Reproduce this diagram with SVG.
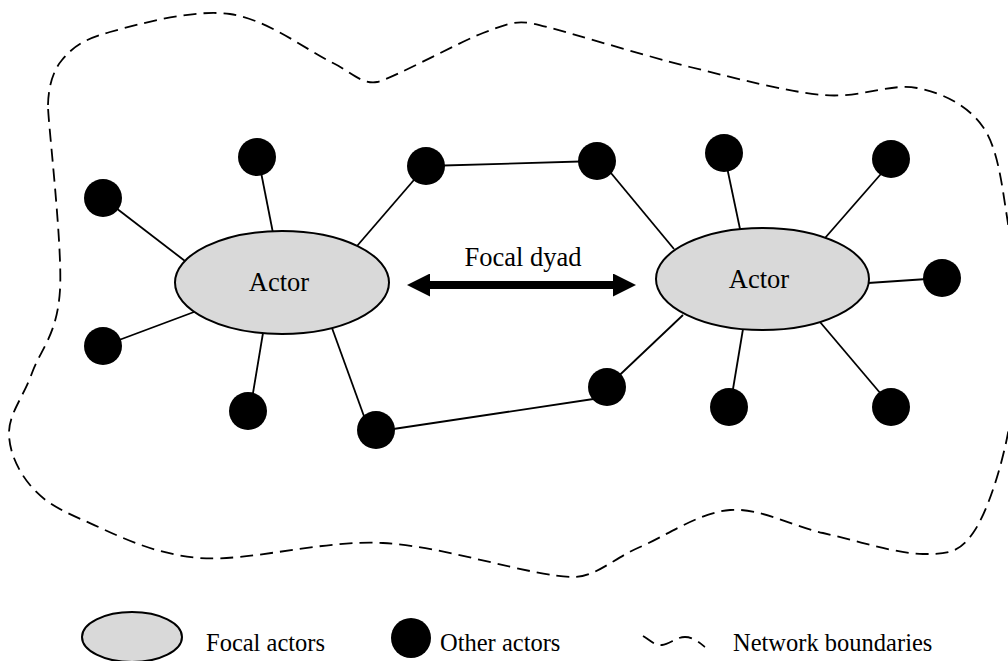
<svg xmlns="http://www.w3.org/2000/svg" width="1008" height="661" viewBox="0 0 1008 661">
  <style>
    text { font-family: 'Liberation Serif', 'DejaVu Serif', serif; fill: #000; }
    .focal { fill: #d9d9d9; stroke: #000; stroke-width: 2; }
    .other { fill: #000; }
    .tie { stroke: #000; stroke-width: 1.8; fill: none; stroke-linecap: butt; }
    .boundary { fill: none; stroke: #000; stroke-width: 1.8; stroke-dasharray: 13 7; }
  </style>
  <defs>
    <marker id="head" markerUnits="userSpaceOnUse" markerWidth="23" markerHeight="23" viewBox="0 0 23 23" refX="1" refY="11.5" orient="auto-start-reverse">
      <path d="M0,0 L23,11.5 L0,23 Z" fill="#000"/>
    </marker>
  </defs>

  <rect width="1008" height="661" fill="#fff"/>

  <!-- network boundary -->
  <path id="boundary" class="boundary" d="M48,105 C48.3,90 51.7,72.2 62,60 C72.3,47.8 82,39.7 110,32 C138,24.3 192.8,8.8 230,14 C267.2,19.2 308,51 333,63 C348,70 362,85 377,82 C392,79 457.5,42.8 483,33 C508.5,23.2 515,21 530,23 C545,25 641.2,55 690,67 C738.8,79 785.2,91.5 823,95 C860.8,98.5 890.3,82.7 917,88 C943.7,93.3 968,105.5 983,127 C998,148.5 1001.8,184.8 1007,217 C1012.2,249.2 1013.8,284 1014,320 C1014.2,356 1014.8,397.5 1008,433 C1001.2,468.5 987.2,512.8 973,533 C958.8,553.2 948,554 923,554 C898,554 855.2,540.3 823,533 C790.8,525.7 760.5,507.7 730,510 C699.5,512.3 666.2,535.8 640,547 C613.8,558.2 595,577.5 573,577 C530.2,576.3 445.2,546.2 383,543 C320.8,539.8 250,561.8 200,558 C150,554.2 111.3,532.2 83,520 C54.7,507.8 42.3,499.7 30,485 C17.7,470.3 8.7,450.7 9,432 C9.3,413.3 23.5,396.7 32,373 C40.5,349.3 57.3,334.7 60,290 C62.7,245.3 47.7,120 48,105 Z"/>

  <!-- ties between actors -->
  <g id="connectors">
    <line class="tie" x1="103" y1="198" x2="185" y2="261"/>
    <line class="tie" x1="258" y1="157" x2="273" y2="233"/>
    <line class="tie" x1="426" y1="166" x2="357" y2="246"/>
    <line class="tie" x1="103" y1="346" x2="194" y2="312"/>
    <line class="tie" x1="250" y1="411" x2="263" y2="333"/>
    <line class="tie" x1="369" y1="430" x2="332" y2="328"/>
    <line class="tie" x1="601" y1="161" x2="674" y2="249"/>
    <line class="tie" x1="724" y1="153" x2="740" y2="229"/>
    <line class="tie" x1="894" y1="159" x2="825" y2="238"/>
    <line class="tie" x1="942" y1="278" x2="868" y2="283"/>
    <line class="tie" x1="607" y1="387" x2="683" y2="315"/>
    <line class="tie" x1="730" y1="407" x2="743" y2="329"/>
    <line class="tie" x1="892" y1="407" x2="820" y2="322"/>
    <line class="tie" x1="426" y1="166" x2="597" y2="161"/>
    <line class="tie" x1="380" y1="431" x2="600" y2="398"/>
    <!-- focal dyad -->
    <line id="dyad" x1="429" y1="285" x2="614" y2="285" stroke="#000" stroke-width="8" marker-start="url(#head)" marker-end="url(#head)"/>
  </g>

  <!-- focal actors -->
  <g id="actor-left">
    <ellipse class="focal" cx="282" cy="282.5" rx="107" ry="51.5"/>
    <text x="279" y="291" font-family="Liberation Serif, DejaVu Serif, serif" font-size="26.5" text-anchor="middle">Actor</text>
  </g>
  <g id="actor-right">
    <ellipse class="focal" cx="762.5" cy="279" rx="106.5" ry="51"/>
    <text x="759" y="288" font-family="Liberation Serif, DejaVu Serif, serif" font-size="26.5" text-anchor="middle">Actor</text>
  </g>

  <text id="dyad-label" x="523" y="266" font-family="Liberation Serif, DejaVu Serif, serif" font-size="26.5" text-anchor="middle">Focal dyad</text>

  <!-- other actors -->
  <g id="node-a"><circle class="other" cx="103" cy="198" r="19"/></g>
  <g id="node-b"><circle class="other" cx="257" cy="157" r="19"/></g>
  <g id="node-c"><circle class="other" cx="426" cy="166" r="19"/></g>
  <g id="node-d"><circle class="other" cx="103" cy="346" r="19"/></g>
  <g id="node-e"><circle class="other" cx="248" cy="411" r="19"/></g>
  <g id="node-f"><circle class="other" cx="376" cy="430" r="19"/></g>
  <g id="node-g"><circle class="other" cx="597" cy="161" r="19"/></g>
  <g id="node-h"><circle class="other" cx="724" cy="153" r="19"/></g>
  <g id="node-i"><circle class="other" cx="891" cy="159" r="19"/></g>
  <g id="node-j"><circle class="other" cx="942" cy="278" r="19"/></g>
  <g id="node-k"><circle class="other" cx="607" cy="387" r="19"/></g>
  <g id="node-l"><circle class="other" cx="729" cy="407" r="19"/></g>
  <g id="node-m"><circle class="other" cx="891" cy="407" r="19"/></g>

  <!-- legend -->
  <g id="legend">
    <ellipse class="focal" cx="132" cy="637" rx="50" ry="25"/>
    <text x="206" y="651" font-family="Liberation Serif, DejaVu Serif, serif" font-size="24.5">Focal actors</text>
    <circle class="other" cx="411" cy="638" r="20"/>
    <text x="440" y="651" font-family="Liberation Serif, DejaVu Serif, serif" font-size="24.5">Other actors</text>
    <path class="boundary" d="M643,636 C650,640 655,646 662,645 C670,644 676,637 685,637 C693,637 700,643 705,647" stroke-dasharray="11 7"/>
    <text x="733" y="651" font-family="Liberation Serif, DejaVu Serif, serif" font-size="24.5">Network boundaries</text>
  </g>
</svg>
